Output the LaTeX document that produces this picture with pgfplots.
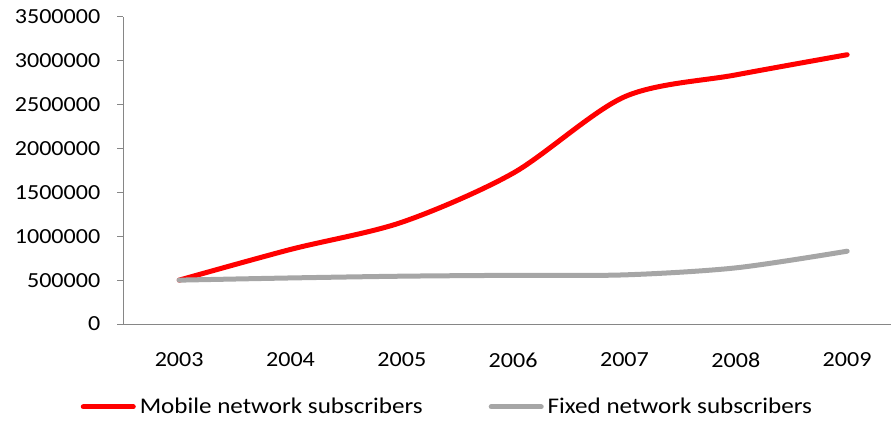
\documentclass[border=0pt]{standalone}
\usepackage{fontspec}
\setmainfont{Carlito}[FakeStretch=1.12]
\usepackage{pgfplots}
\pgfplotsset{compat=1.18}
\definecolor{mred}{HTML}{FF0000}
\definecolor{fgray}{HTML}{A6A6A6}
\definecolor{axgray}{HTML}{868686}
\begin{document}
\fontsize{21.5bp}{24bp}\selectfont
\begin{tikzpicture}
\begin{axis}[
  scale only axis,
  width=767.5bp, height=307bp,
  at={(0,0)}, anchor=south west,
  xmin=-0.5, xmax=6.394,
  ymin=0, ymax=3500000,
  axis x line*=bottom, axis y line*=left,
  axis line style={axgray, line width=1bp},
  xtick={0,...,6}, xticklabels={2003,2004,2005,2006,2007,2008,2009},
  extra x ticks={0.5,1.5,2.5,3.5,4.5,5.5},
  extra x tick labels={},
  extra x tick style={major tick length=7bp, tick style={axgray, line width=1bp}, tick align=outside},
  xtick style={draw=none},
  ytick={0,500000,...,3500000},
  ytick style={axgray, line width=1bp},
  major tick length=6bp,
  tick align=outside,
  scaled y ticks=false,
  /pgf/number format/assume math mode=true,
  yticklabel={\pgfmathprintnumber[fixed,1000 sep={}]{\tick}},
  yticklabel style={font=\fontsize{21.5bp}{24bp}\selectfont, inner sep=0pt, anchor=east, xshift=-17bp},
  xticklabel style={font=\fontsize{21.5bp}{24bp}\selectfont, inner sep=0pt, anchor=center, yshift=-30bp},
  legend columns=2,
  legend style={draw=none, fill=none, at={(0.422,-0.27)}, anchor=center,
    font=\fontsize{22.4bp}{24bp}\selectfont, inner sep=0pt,
    /tikz/every odd column/.append style={column sep=2bp},
    /tikz/every even column/.append style={column sep=64bp}},
  legend cell align=left,
  legend image code/.code={\draw[#1, line cap=round] (0bp,0bp) -- (50bp,0bp);},
  clip=false,
]
\addplot[mred, line width=5bp, smooth, line cap=round] coordinates {
 (0,500000) (1,850000) (2,1160000) (3,1720000) (4,2590000) (5,2840000) (6,3070000)};
\addlegendentry{Mobile network subscribers}
\addplot[fgray, line width=5bp, smooth, line cap=round] coordinates {
 (0,500000) (1,525000) (2,545000) (3,555000) (4,560000) (5,640000) (6,830000)};
\addlegendentry{Fixed network subscribers}
\end{axis}
\pgfresetboundingbox
\path (-123.5bp,-97bp) rectangle (767.5bp,324bp);
\end{tikzpicture}
\end{document}
